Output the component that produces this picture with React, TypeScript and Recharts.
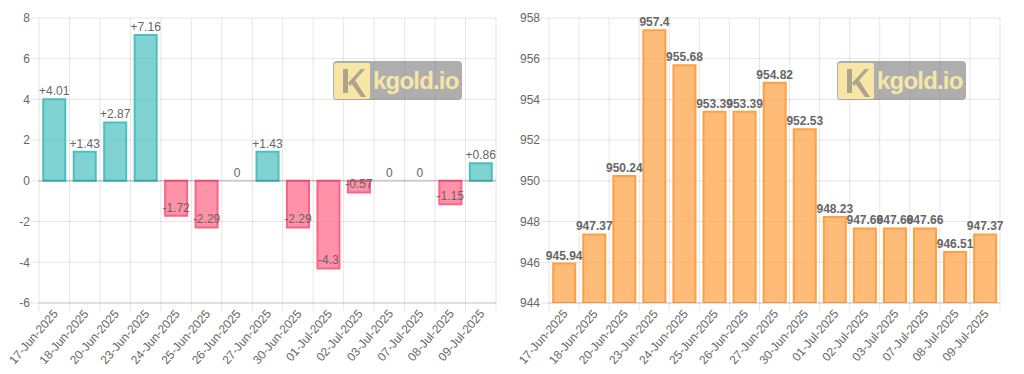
import React from 'react';
import { BarChart, ComposedChart, Bar, Line, XAxis, YAxis, CartesianGrid, Cell, LabelList, ReferenceLine } from 'recharts';

const DATES = [
  '17-Jun-2025', '18-Jun-2025', '20-Jun-2025', '23-Jun-2025', '24-Jun-2025',
  '25-Jun-2025', '26-Jun-2025', '27-Jun-2025', '30-Jun-2025', '01-Jul-2025',
  '02-Jul-2025', '03-Jul-2025', '07-Jul-2025', '08-Jul-2025', '09-Jul-2025',
];

const CHANGES = [4.01, 1.43, 2.87, 7.16, -1.72, -2.29, 0, 1.43, -2.29, -4.3, -0.57, 0, 0, -1.15, 0.86];

const PRICES = [
  945.94, 947.37, 950.24, 957.4, 955.68, 953.39, 953.39, 954.82,
  952.53, 948.23, 947.66, 947.66, 947.66, 946.51, 947.37,
];

const CHANGE_TICKS = [-6, -4, -2, 0, 2, 4, 6, 8];
const PRICE_TICKS = [944, 946, 948, 950, 952, 954, 956, 958];

const changeData = DATES.map((date, i) => ({ date, value: CHANGES[i] }));
const priceData = DATES.map((date, i) => ({ date, value: PRICES[i] }));

const FONT = "'Helvetica Neue', Helvetica, Arial, 'Liberation Sans', sans-serif";
const GRID = 'rgba(0,0,0,0.1)';

const TEAL = 'rgb(75,192,192)';
const PINK = 'rgb(255,99,132)';
const ORANGE = 'rgb(255,159,64)';

function DateTick({ x, y, payload, step }: any) {
  const axisY = y - 10;
  const ax = x + 2;
  const ay = y - 1;
  return (
    <g>
      <line x1={x - step / 2} y1={axisY} x2={x - step / 2} y2={axisY + 8} stroke={GRID} />
      {payload.index === DATES.length - 1 && (
        <line x1={x + step / 2} y1={axisY} x2={x + step / 2} y2={axisY + 8} stroke={GRID} />
      )}
      <text
        x={ax}
        y={ay}
        transform={`rotate(-49, ${ax}, ${ay})`}
        textAnchor="end"
        dominantBaseline="middle"
        fontSize={12}
        fontFamily={FONT}
        fill="#666"
      >
        {payload.value}
      </text>
    </g>
  );
}

// change labels sit 8px above the value end of each bar (inside negative bars)
function ChangeDot({ cx, cy, payload }: any) {
  const v = payload.value;
  const text = v > 0 ? `+${v}` : `${v}`;
  return (
    <text key={`lbl-${payload.date}`} x={cx} y={cy - 4} textAnchor="middle" fontSize={12} fontFamily={FONT} fill="#666">
      {text}
    </text>
  );
}

function PriceLabel({ x, y, width, height, value }: any) {
  const end = Math.min(y, y + height);
  return (
    <text x={x + width / 2} y={end - 4} textAnchor="middle" fontSize={12} fontWeight="bold" fontFamily={FONT} fill="#666">
      {value}
    </text>
  );
}

function Logo({ left }: { left: number }) {
  return (
    <div
      style={{
        position: 'absolute',
        left,
        top: 61,
        width: 129,
        height: 39,
        background: 'rgba(120,120,120,0.6)',
        borderRadius: 4,
        pointerEvents: 'none',
      }}
    >
      <svg width={36} height={36} style={{ position: 'absolute', left: 1, top: 2 }}>
        <rect x={0} y={0} width={36} height={36} rx={2} fill="#f7e6a6" />
        <path d="M9 6 L14 6 L14 30 L9 30 Z" fill="#aaa48e" />
        <path d="M14 20 L27 6 L31 6 L16 23 Z" fill="#aaa48e" />
        <path d="M17 20 L21 17 L32 34 L27 34 Z" fill="#aaa48e" />
      </svg>
      <div
        style={{
          position: 'absolute',
          left: 40,
          top: 5,
          fontFamily: "'Liberation Sans', Arial, sans-serif",
          fontWeight: 'bold',
          fontSize: 24,
          letterSpacing: -0.8,
          color: '#f7e6a6',
          lineHeight: '30px',
        }}
      >
        kgold.io
      </div>
    </div>
  );
}

const boundaries = (count: number) => ({ offset }: any) =>
  Array.from({ length: count + 1 }, (_, i) => offset.left + (i * offset.width) / count);

export default function App() {
  const leftStep = 457 / DATES.length;
  const rightStep = 451 / DATES.length;
  return (
    <div style={{ position: 'absolute', left: 0, top: 0, width: 1024, height: 374, background: '#fff' }}>
      <div style={{ position: 'absolute', left: 0, top: 0 }}>
        <ComposedChart width={512} height={374} data={changeData} margin={{ top: 18, right: 16, left: 0, bottom: 0 }} barCategoryGap="14%">
          <CartesianGrid stroke={GRID} verticalCoordinatesGenerator={boundaries(DATES.length)} />
          <XAxis
            dataKey="date"
            height={71}
            interval={0}
            tickSize={8}
            tickMargin={2}
            tickLine={false}
            axisLine={{ stroke: 'rgba(0,0,0,0.15)' }}
            tick={<DateTick step={leftStep} />}
          />
          <YAxis
            width={39}
            domain={[-6, 8]}
            ticks={CHANGE_TICKS}
            interval={0}
            tickSize={8}
            tickMargin={1}
            axisLine={false}
            tickLine={{ stroke: GRID }}
            tick={{ fontSize: 12, fill: '#666', fontFamily: FONT }}
          />
          <ReferenceLine y={0} stroke="rgba(0,0,0,0.15)" strokeWidth={2} />
          <Bar dataKey="value" strokeWidth={2} isAnimationActive={false}>
            {changeData.map((d, i) => (
              <Cell
                key={`cell-${i}`}
                fill={d.value >= 0 ? 'rgba(75,192,192,0.7)' : 'rgba(255,99,132,0.7)'}
                stroke={d.value >= 0 ? TEAL : PINK}
              />
            ))}
          </Bar>
          <Line
            dataKey="value"
            stroke="none"
            dot={(p: any) => <ChangeDot key={`dot-${p.index}`} {...p} />}
            activeDot={false}
            legendType="none"
            isAnimationActive={false}
          />
        </ComposedChart>
        <Logo left={333} />
      </div>
      <div style={{ position: 'absolute', left: 512, top: 0 }}>
        <BarChart width={512} height={374} data={priceData} margin={{ top: 18, right: 24, left: 0, bottom: 0 }} barCategoryGap="14%">
          <CartesianGrid stroke={GRID} verticalCoordinatesGenerator={boundaries(DATES.length)} />
          <XAxis
            dataKey="date"
            height={71}
            interval={0}
            tickSize={8}
            tickMargin={2}
            tickLine={false}
            axisLine={{ stroke: 'rgba(0,0,0,0.15)' }}
            tick={<DateTick step={rightStep} />}
          />
          <YAxis
            width={37}
            domain={[944, 958]}
            ticks={PRICE_TICKS}
            interval={0}
            allowDataOverflow
            tickSize={8}
            tickMargin={1}
            axisLine={false}
            tickLine={{ stroke: GRID }}
            tick={{ fontSize: 12, fill: '#666', fontFamily: FONT }}
          />
          <Bar dataKey="value" fill="rgba(255,159,64,0.7)" stroke={ORANGE} strokeWidth={2} isAnimationActive={false}>
            <LabelList dataKey="value" content={<PriceLabel />} />
          </Bar>
        </BarChart>
        <Logo left={325} />
      </div>
    </div>
  );
}
